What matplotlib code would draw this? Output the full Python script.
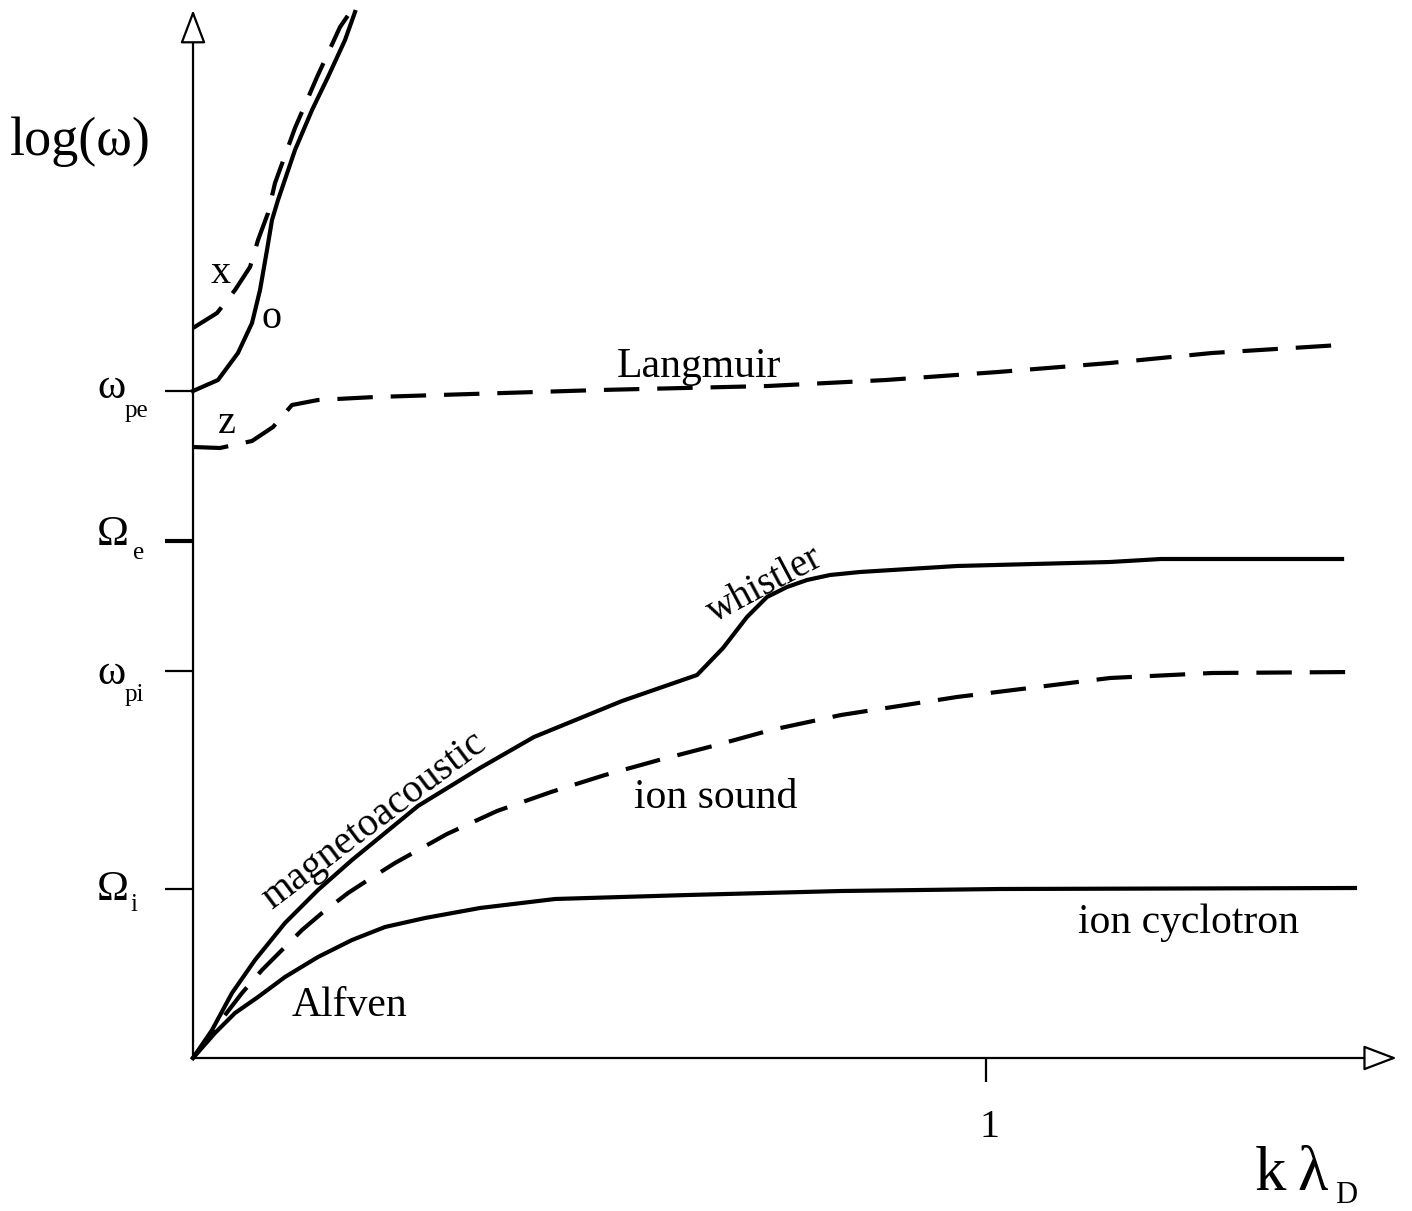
import matplotlib
matplotlib.use('Agg')
import matplotlib.pyplot as plt

plt.rcParams['font.family'] = ['Liberation Serif', 'DejaVu Serif']

# schematic dispersion curves, x = k lambda_D, y = log(omega) (arbitrary units)
k_o = [0, 0.0315, 0.0567, 0.0744, 0.0845, 0.0933, 0.0996, 0.1072, 0.1286, 0.1501, 0.1702, 0.1917, 0.2043]
w_o = [6.67, 6.78, 7.05, 7.35, 7.68, 8.08, 8.38, 8.58, 9.08, 9.48, 9.81, 10.18, 10.46]

k_x = [0, 0.0303, 0.0530, 0.0719, 0.0820, 0.0946, 0.1034, 0.1286, 0.1564, 0.1854, 0.2018]
w_x = [7.30, 7.45, 7.68, 7.91, 8.18, 8.45, 8.75, 9.30, 9.81, 10.31, 10.50]

k_langmuir = [0, 0.0340, 0.0744, 0.1009, 0.1248, 0.1576, 0.2295, 0.5132, 0.7251, 0.8739, 1.0151, 1.1564, 1.2850, 1.4464]
w_langmuir = [6.11, 6.10, 6.17, 6.31, 6.53, 6.58, 6.61, 6.68, 6.72, 6.78, 6.86, 6.95, 7.05, 7.13]

k_whistler = [0, 0.0240, 0.0492, 0.0782, 0.1160, 0.1576, 0.2005, 0.2837, 0.3619, 0.4300, 0.5410,
              0.6356, 0.6684, 0.6986, 0.7238, 0.7491, 0.7743, 0.8033, 0.8411, 0.9634, 1.1564, 1.2207, 1.4490]
w_whistler = [0, 0.28, 0.65, 0.98, 1.35, 1.68, 1.98, 2.52, 2.90, 3.21, 3.57,
              3.83, 4.10, 4.41, 4.61, 4.71, 4.78, 4.83, 4.86, 4.92, 4.96, 4.99, 4.99]

k_sound = [0, 0.0404, 0.0618, 0.0870, 0.1122, 0.1375, 0.1627, 0.1955, 0.2207, 0.2547, 0.3203,
           0.3834, 0.4515, 0.5195, 0.5876, 0.6557, 0.7289, 0.8172, 0.9634, 1.1564, 1.2850, 1.4653]
w_sound = [0, 0.43, 0.65, 0.88, 1.08, 1.28, 1.45, 1.65, 1.78, 1.95, 2.24,
           2.47, 2.66, 2.83, 2.98, 3.12, 3.28, 3.43, 3.61, 3.80, 3.85, 3.86]

k_alfven = [0, 0.0277, 0.0530, 0.0820, 0.1160, 0.1576, 0.2005, 0.2421, 0.2926, 0.3619, 0.4565,
            0.6242, 0.8172, 1.0177, 1.4653]
w_alfven = [0, 0.25, 0.45, 0.61, 0.81, 1.01, 1.18, 1.31, 1.40, 1.50, 1.59,
            1.63, 1.67, 1.69, 1.70]

# frequency levels on the vertical axis
levels = [6.67, 5.17, 3.87, 1.69]
level_sym = ['ω', 'Ω', 'ω', 'Ω']
level_sub = ['pe', 'e', 'pi', 'i']

fig = plt.figure(figsize=(14.12, 12.11), dpi=100)
ax = fig.add_axes([0, 0, 1, 1])
ax.set_xlim(-0.2434, 1.5372)
ax.set_ylim(-1.53, 10.58)
ax.axis('off')

lw = 3.0
dash = (8.5, 4.3)
ax.plot(k_o, w_o, color='k', lw=lw, solid_joinstyle='round')
ax.plot(k_x, w_x, color='k', lw=lw, dashes=dash)
ax.plot(k_langmuir, w_langmuir, color='k', lw=lw, dashes=dash)
ax.plot(k_whistler, w_whistler, color='k', lw=lw, solid_joinstyle='round')
ax.plot(k_sound, w_sound, color='k', lw=lw, dashes=dash)
ax.plot(k_alfven, w_alfven, color='k', lw=lw, solid_joinstyle='round')

# axes with open arrow heads
arr = dict(arrowstyle='-|>,head_length=1.0,head_width=0.38', mutation_scale=21,
           fc='white', ec='k', lw=1.6, shrinkA=0, shrinkB=0)
ax.annotate('', xy=(0, 10.48), xytext=(0, 0), arrowprops=arr)
ax.annotate('', xy=(1.518, 0), xytext=(0, 0), arrowprops=arr)

# ticks
for i, lev in enumerate(levels):
    ax.plot([-0.0353, 0], [lev, lev], color='k', lw=3.0 if i == 1 else 1.6,
            solid_capstyle='butt')
ax.plot([1.0, 1.0], [0, -0.24], color='k', lw=1.6, solid_capstyle='butt')

sym_base = [6.60, 5.13, 3.74, 1.58]
sub_base = [6.41, 4.99, 3.57, 1.47]
sub_x = [-0.0858, -0.0757, -0.0858, -0.0794]
for i in range(len(levels)):
    ax.text(-0.1210, sym_base[i], level_sym[i], fontsize=31, ha='left', va='baseline')
    ax.text(sub_x[i], sub_base[i], level_sub[i], fontsize=18, ha='left', va='baseline')

ax.text(-0.2308, 9.03, 'log(ω)', fontsize=39, ha='left', va='baseline')
ax.text(1.005, -0.79, '1', fontsize=29, ha='center', va='baseline')
ax.text(1.3392, -1.32, 'k', fontsize=45, ha='left', va='baseline')
ax.text(1.3922, -1.32, 'λ', fontsize=45, ha='left', va='baseline')
ax.text(1.4401, -1.45, 'D', fontsize=22, ha='left', va='baseline')

# curve names
ax.text(0.0353, 7.75, 'x', fontsize=29, ha='center', va='baseline')
ax.text(0.0996, 7.30, 'o', fontsize=29, ha='center', va='baseline')
ax.text(0.0429, 6.25, 'z', fontsize=29, ha='center', va='baseline')
ax.text(0.5347, 6.81, 'Langmuir', fontsize=30, ha='left', va='baseline')
ax.text(0.7213, 4.73, 'whistler', fontsize=28, rotation=28, ha='center', va='center')
ax.text(0.2282, 2.37, 'magnetoacoustic', fontsize=29, rotation=37, ha='center', va='center')
ax.text(0.5561, 2.50, 'ion sound', fontsize=30, ha='left', va='baseline')
ax.text(1.1160, 1.25, 'ion cyclotron', fontsize=30, ha='left', va='baseline')
ax.text(0.1248, 0.42, 'Alfven', fontsize=30, ha='left', va='baseline')

plt.savefig('out.png', dpi=100)
